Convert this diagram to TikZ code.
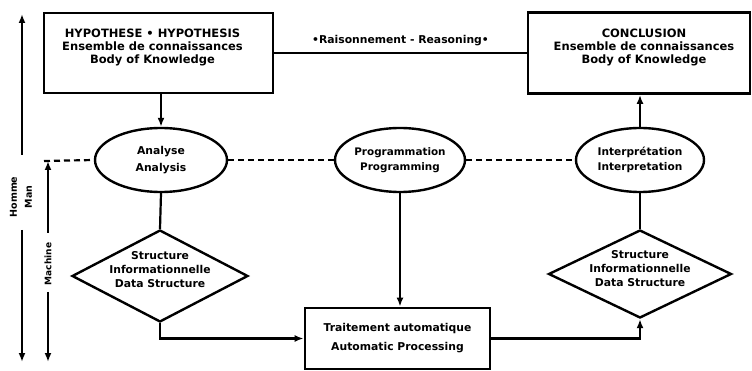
\documentclass[tikz,border=0pt]{standalone}
\usepackage{fontspec}
\setmainfont{DejaVu Sans}
\usetikzlibrary{shapes.geometric,arrows.meta}
\begin{document}
\begin{tikzpicture}[x=1pt,y=-1pt,
  boxst/.style={draw, line width=2.8pt, inner sep=0pt},
  txt/.style={align=center, font=\bfseries\fontsize{11.5}{13}\selectfont, inner sep=0pt},
  ell/.style={ellipse, draw, line width=2.4pt, inner sep=0pt, align=center},
  dia/.style={diamond, draw, line width=2.4pt, inner sep=0pt},
  con/.style={line width=2.2pt},
  arr/.style={con, -{Latex[length=9pt,width=7pt]}},
  dsh/.style={line width=2.2pt, dash pattern=on 6pt off 4pt},
  vlab/.style={rotate=90, align=center, inner sep=0pt}
]
\useasboundingbox (0,0) rectangle (752,371);

% boxes
\node[boxst, minimum width=229pt, minimum height=80pt,
      label={[txt, xshift=-6pt, yshift=6pt]center:HYPOTHESE • HYPOTHESIS\\Ensemble de connaissances\\Body of Knowledge}]
      (hyp) at (158.5,53) {};
\node[boxst, minimum width=222pt, minimum height=81pt,
      label={[txt, xshift=5pt, yshift=6pt]center:CONCLUSION\\Ensemble de connaissances\\Body of Knowledge}]
      (conc) at (639,53) {};
\node[boxst, minimum width=185pt, minimum height=61pt,
      font=\bfseries\fontsize{10.8}{19}\selectfont, align=center]
      (trait) at (397.5,338.5) {Traitement automatique\\Automatic Processing};

% ellipses
\node[ell, minimum width=132pt, minimum height=64pt, font=\bfseries\fontsize{10.8}{17}\selectfont]
      (ana) at (161,160) {Analyse\\Analysis};
\node[ell, minimum width=130pt, minimum height=64pt, font=\bfseries\fontsize{10.4}{15}\selectfont]
      (prog) at (400,160) {Programmation\\Programming};
\node[ell, minimum width=128pt, minimum height=64pt, font=\bfseries\fontsize{10.6}{15}\selectfont]
      (interp) at (640,160) {Interprétation\\Interpretation};

% diamonds
\node[dia, minimum width=176pt, minimum height=92pt,
      label={[align=center, inner sep=0pt, yshift=6pt, font=\bfseries\fontsize{10.8}{14}\selectfont]center:Structure\\Informationnelle\\Data Structure}]
      (sd1) at (160,276) {};
\node[dia, minimum width=183pt, minimum height=88pt,
      label={[align=center, inner sep=0pt, yshift=5pt, font=\bfseries\fontsize{10.8}{14}\selectfont]center:Structure\\Informationnelle\\Data Structure}]
      (sd2) at (640,274) {};

% reasoning
\draw[con] (hyp.east) -- (conc.west)
  node[midway, above=6pt, font=\bfseries\fontsize{10.8}{12}\selectfont, inner sep=0pt] (reas) {•Raisonnement - Reasoning•};

% dashed man/machine boundary
\coordinate (dstart) at (44,161);
\draw[dsh] (dstart) -- (ana.west);
\draw[dsh] (ana.east) -- (prog.west);
\draw[dsh] (prog.east) -- (interp.west);

% connectors
\draw[arr] (ana.north |- hyp.south) -- (ana.north);
\draw[con] (ana.south) -- (sd1.north);
\draw[arr] (sd1.south) |- (trait.west);
\draw[arr] (prog.south) -- (prog.south |- trait.north);
\draw[arr] (trait.east) -| (sd2.south);
\draw[con] (interp.south) -- (sd2.north);
\draw[arr] (interp.north) -- (interp.north |- conc.south);

% side axes
\coordinate (a1top) at (22,14);
\coordinate (a1a) at (22,155);
\coordinate (a1b) at (22,230);
\coordinate (a1bot) at (22,362);
\coordinate (a2top) at (48,161);
\coordinate (a2a) at (48,233);
\coordinate (a2b) at (48,292);
\coordinate (a2bot) at (48,362);
\draw[arr] (a1a) -- (a1top);
\draw[arr] (a1b) -- (a1bot);
\draw[arr] (a2a) -- (a2top);
\draw[arr] (a2b) -- (a2bot);
\node[vlab, font=\bfseries\fontsize{9.5}{15}\selectfont] (homme) at (21,197) {Homme\\Man};
\node[vlab, font=\bfseries\fontsize{9}{11}\selectfont] (mach) at (48,264) {Machine};
\end{tikzpicture}
\end{document}
